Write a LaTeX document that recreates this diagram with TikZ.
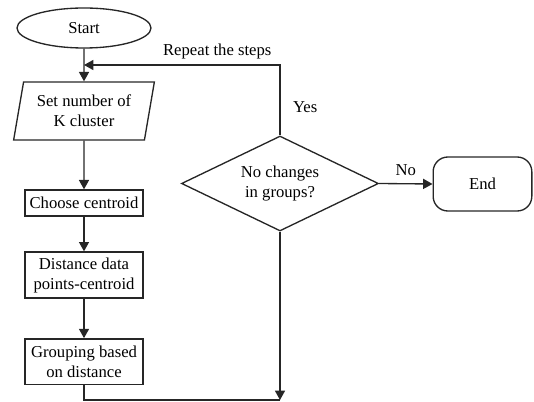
\documentclass[tikz,border=0pt]{standalone}
\usepackage{fontspec}
\setmainfont{LiberationSerif}[Extension=.ttf, UprightFont=*-Regular]
\usetikzlibrary{shapes.geometric, positioning, arrows.meta}

\begin{document}
\begin{tikzpicture}[x=0.75pt, y=-0.75pt,
  every node/.style={font=\rmfamily\fontsize{12.5}{15}\selectfont, align=center},
  line/.style={draw=black!85, line width=1pt},
  flow/.style={line, -{Triangle[length=7pt, width=7.5pt]}},
  box/.style={rectangle, line, minimum width=88.5pt, inner sep=1pt},
  io/.style={trapezium, line, trapezium left angle=77, trapezium right angle=103,
    trapezium stretches=true, minimum width=106.5pt, minimum height=43.5pt, inner sep=1pt},
  decision/.style={diamond, line, minimum width=147.75pt, minimum height=71.25pt, inner sep=0pt},
  terminal/.style={line, minimum width=74pt, minimum height=40.5pt, rounded corners=11pt}]
  \useasboundingbox (0,0) rectangle (534,402);

  % Left column: the steps
  \node[ellipse, line, minimum width=100.5pt, minimum height=30pt] (start) at (84,28) {Start};
  \node[io] (setk) at (84,111) {Set number of\\K cluster};
  \node[box, minimum height=19.5pt] (choose) at (84,203) {Choose centroid};
  \node[box, minimum height=34.5pt] (dist) at (84,275) {Distance data\\points-centroid};
  \node[box, minimum height=34pt] (group) at (84,361.5) {Grouping based\\on distance};

  % Right: test and end
  \node[decision, label={[align=center]center:No changes\\in groups?}] (decide) at (280,183.5) {};
  \node[terminal] (finish) at (482.5,184) {End};

  \coordinate (merge) at (84,65);
  \coordinate (join) at (280,400);

  \draw[flow] (start) -- (setk);
  \draw[flow] (setk) -- (choose);
  \draw[flow] (choose) -- (dist);
  \draw[flow] (dist) -- (group);
  \draw[line] (group.south) |- (join);
  \draw[flow] (decide.south) -- (join);
  \draw[flow] (decide.north) |- (merge)
    node[pos=0.2, right, xshift=6pt] {Yes}
    node[pos=0.66, above, yshift=1pt] {Repeat the steps};
  \draw[flow] (decide.east) -- (finish.west) node[midway, above, yshift=2pt] {No};
\end{tikzpicture}
\end{document}
